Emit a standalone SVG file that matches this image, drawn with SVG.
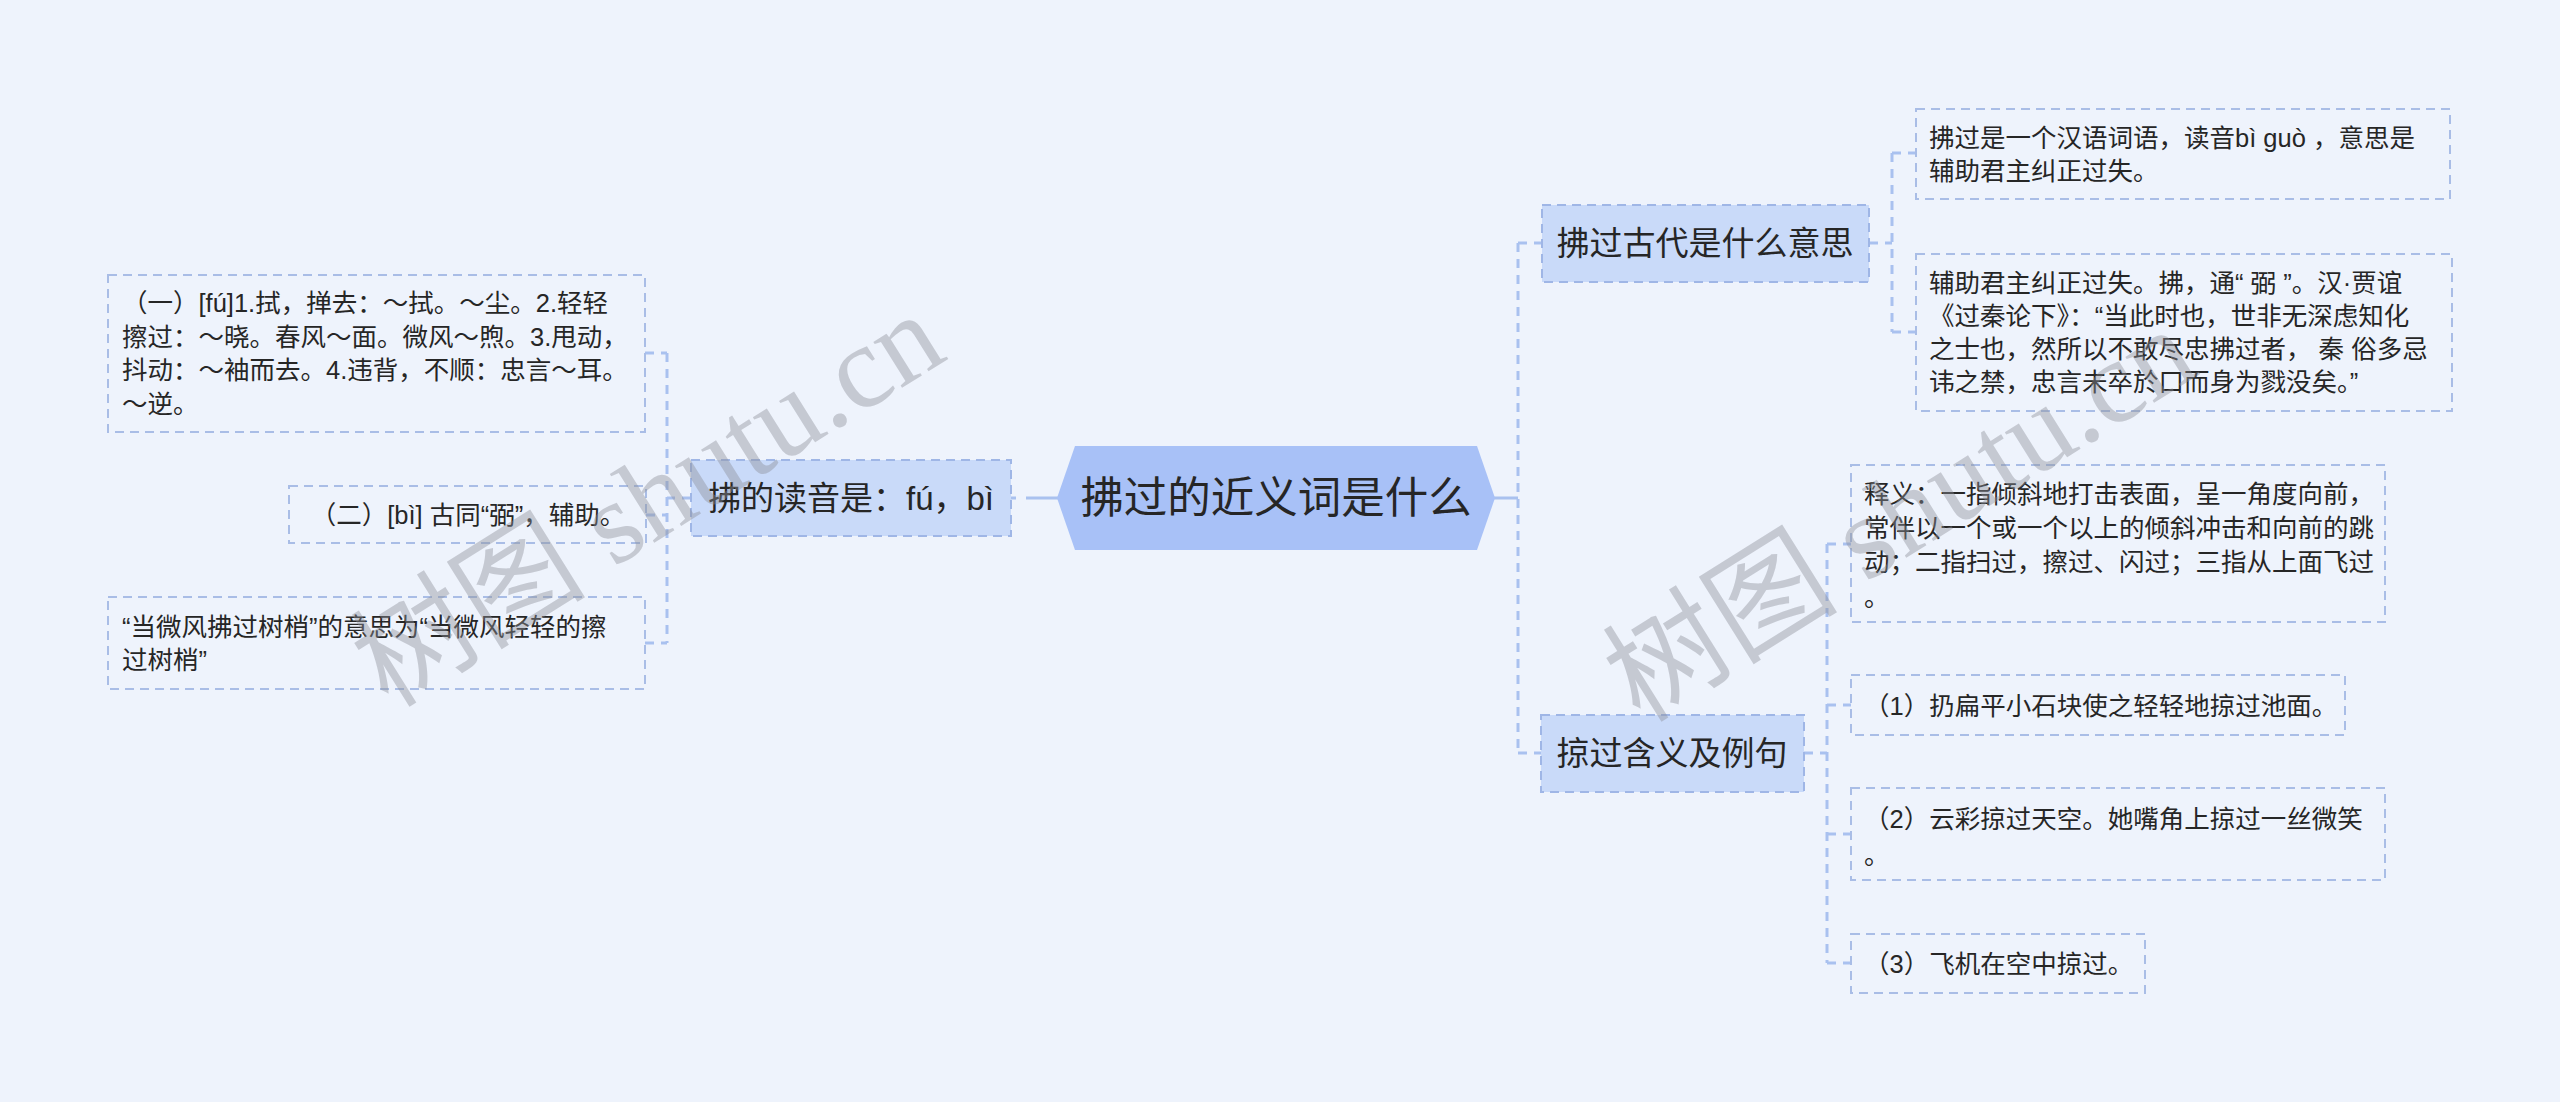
<svg xmlns="http://www.w3.org/2000/svg" width="2560" height="1102" viewBox="0 0 2560 1102">
<style>
text{font-family:"Liberation Sans","Noto Sans CJK SC",sans-serif;fill:#262626;dominant-baseline:central}
.leaf rect{fill:none;stroke:#a9bde6;stroke-width:2;stroke-dasharray:9 6}
.leaf text{font-size:25.5px}
.sub rect{fill:#c9daf9;stroke:#9fb6e6;stroke-width:2;stroke-dasharray:9 6}
.sub text{font-size:33px;text-anchor:middle}
.wire{stroke:#a9c1ef;stroke-width:3;fill:none}
.dash{stroke-dasharray:9 7}
.wm{font-family:"Liberation Serif","Noto Sans CJK SC",serif;font-size:118px;fill:#8c9099;fill-opacity:0.42;text-anchor:middle}
</style>
<rect width="2560" height="1102" fill="#eef3fc"/>
<g id="connectors">
<line class="wire" x1="1026" y1="498" x2="1058" y2="498"/>
<line class="wire" x1="1011" y1="498" x2="1016" y2="498"/>
<line class="wire dash" x1="691" y1="498" x2="667" y2="498"/>
<line class="wire dash" x1="667" y1="353" x2="667" y2="643"/>
<line class="wire dash" x1="645" y1="353" x2="667" y2="353"/>
<line class="wire dash" x1="646" y1="515" x2="667" y2="515"/>
<line class="wire dash" x1="645" y1="643" x2="667" y2="643"/>
<line class="wire" x1="1494" y1="498" x2="1518" y2="498"/>
<line class="wire dash" x1="1518" y1="243" x2="1518" y2="753"/>
<line class="wire dash" x1="1518" y1="243" x2="1542" y2="243"/>
<line class="wire dash" x1="1518" y1="753" x2="1541" y2="753"/>
<line class="wire dash" x1="1869" y1="243" x2="1892" y2="243"/>
<line class="wire dash" x1="1892" y1="153" x2="1892" y2="332"/>
<line class="wire dash" x1="1892" y1="153" x2="1916" y2="153"/>
<line class="wire dash" x1="1892" y1="332" x2="1916" y2="332"/>
<line class="wire dash" x1="1804" y1="753" x2="1827" y2="753"/>
<line class="wire dash" x1="1827" y1="544" x2="1827" y2="963"/>
<line class="wire dash" x1="1827" y1="544" x2="1851" y2="544"/>
<line class="wire dash" x1="1827" y1="705" x2="1851" y2="705"/>
<line class="wire dash" x1="1827" y1="834" x2="1851" y2="834"/>
<line class="wire dash" x1="1827" y1="963" x2="1851" y2="963"/>
</g>
<g id="root">
<polygon points="1057,498 1075,446 1477,446 1495,498 1477,550 1075,550" fill="#a8c1f7"/>
<text x="1276" y="498" font-size="43.5" text-anchor="middle">拂过的近义词是什么</text>
</g>
<g id="n-duyin" class="sub">
<rect x="691" y="460" width="320" height="76"/>
<text x="851" y="498">拂的读音是：fú，bì</text>
</g>
<g id="n-gudai" class="sub">
<rect x="1542" y="205" width="327" height="77"/>
<text x="1705" y="243">拂过古代是什么意思</text>
</g>
<g id="n-lveguo" class="sub">
<rect x="1541" y="715" width="263" height="77"/>
<text x="1672" y="753">掠过含义及例句</text>
</g>
<g id="l-yi" class="leaf">
<rect x="108" y="275" width="537" height="157"/>
<text x="122" y="303">（一）[fú]1.拭，掸去：～拭。～尘。2.轻轻</text>
<text x="122" y="337">擦过：～晓。春风～面。微风～煦。3.甩动，</text>
<text x="122" y="370">抖动：～袖而去。4.违背，不顺：忠言～耳。</text>
<text x="122" y="404">～逆。</text>
</g>
<g id="l-er" class="leaf">
<rect x="289" y="486" width="357" height="57"/>
<text x="468" y="515" text-anchor="middle">（二）[bì] 古同“弼”，辅助。</text>
</g>
<g id="l-san" class="leaf">
<rect x="108" y="597" width="537" height="92"/>
<text x="122" y="627">“当微风拂过树梢”的意思为“当微风轻轻的擦</text>
<text x="122" y="660">过树梢”</text>
</g>
<g id="l-r1" class="leaf">
<rect x="1916" y="109" width="534" height="90"/>
<text x="1929" y="138">拂过是一个汉语词语，读音bì guò ，意思是</text>
<text x="1929" y="171">辅助君主纠正过失。</text>
</g>
<g id="l-r2" class="leaf">
<rect x="1916" y="254" width="536" height="157"/>
<text x="1929" y="283">辅助君主纠正过失。拂，通“ 弼 ”。汉·贾谊</text>
<text x="1929" y="316">《过秦论下》：“当此时也，世非无深虑知化</text>
<text x="1929" y="349">之士也，然所以不敢尽忠拂过者， 秦 俗多忌</text>
<text x="1929" y="382">讳之禁，忠言未卒於口而身为戮没矣。”</text>
</g>
<g id="l-shiyi" class="leaf">
<rect x="1851" y="465" width="534" height="157"/>
<text x="1864" y="494">释义：一指倾斜地打击表面，呈一角度向前，</text>
<text x="1864" y="528">常伴以一个或一个以上的倾斜冲击和向前的跳</text>
<text x="1864" y="562">动；二指扫过，擦过、闪过；三指从上面飞过</text>
<text x="1864" y="597">。</text>
</g>
<g id="l-ex1" class="leaf">
<rect x="1851" y="675" width="494" height="60"/>
<text x="1864" y="706">（1）扔扁平小石块使之轻轻地掠过池面。</text>
</g>
<g id="l-ex2" class="leaf">
<rect x="1851" y="788" width="534" height="92"/>
<text x="1864" y="819">（2）云彩掠过天空。她嘴角上掠过一丝微笑</text>
<text x="1864" y="855">。</text>
</g>
<g id="l-ex3" class="leaf">
<rect x="1851" y="934" width="294" height="59"/>
<text x="1864" y="964">（3）飞机在空中掠过。</text>
</g>
<g id="watermark">
<text class="wm" transform="translate(648,500) rotate(-32)" x="0" y="0">树图 shutu.cn</text>
<text class="wm" transform="translate(1900,515) rotate(-32)" x="0" y="0">树图 shutu.cn</text>
</g>
</svg>
